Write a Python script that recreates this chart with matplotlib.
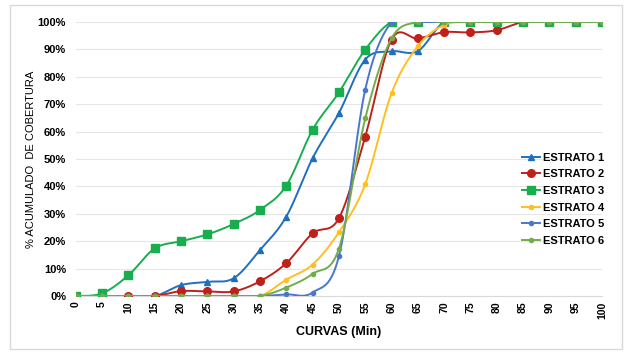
import numpy as np
import matplotlib
matplotlib.use('Agg')
import matplotlib.pyplot as plt
from matplotlib.patches import Rectangle
from matplotlib.ticker import PercentFormatter

plt.rcParams['font.family'] = ['Liberation Sans', 'DejaVu Sans']

curvas = list(range(0, 101, 5))

estrato_1 = [0, 0, 0, 0, 4, 5.2, 6.5, 16.8, 29, 50.3, 66.8, 86.3, 89.3, 89.4,
             100, 100, 100, 100, 100, 100, 100]
estrato_2 = [0, 0, 0, 0, 1.8, 1.7, 1.7, 5.4, 12, 22.9, 28.4, 58.2, 93.6, 94,
             96.3, 96.2, 97, 100, 100, 100, 100]
estrato_3 = [0, 1, 7.6, 17.4, 20, 22.5, 26.3, 31.4, 40.3, 60.7, 74.3, 89.9, 100,
             100, 100, 100, 100, 100, 100, 100, 100]
estrato_4 = [0, 0, 0, 0, 0, 0, 0, 0, 6, 11.5, 23.3, 40.8, 74, 91.2,
             98.9, 100, 100, 100, 100, 100, 100]
estrato_5 = [0, 0, 0, 0, 0, 0, 0, 0, 0.6, 1.3, 14.5, 75.3, 100, 100,
             100, 100, 100, 100, 100, 100, 100]
estrato_6 = [0, 0, 0, 0, 0, 0, 0, 0, 3.1, 8.1, 17.3, 64.8, 94, 100,
             100, 100, 100, 100, 100, 100, 100]

series = [
    ('ESTRATO 1', estrato_1, '#1F6FBF', '^', 5),
    ('ESTRATO 2', estrato_2, '#C0201A', 'o', 5.5),
    ('ESTRATO 3', estrato_3, '#18AE4E', 's', 5.5),
    ('ESTRATO 4', estrato_4, '#FFBF1F', 'o', 3),
    ('ESTRATO 5', estrato_5, '#4A77C9', 'o', 3),
    ('ESTRATO 6', estrato_6, '#72AC4D', 'o', 3),
]


def smooth(x, y, n=20):
    # excel-like smoothed line: catmull-rom segments as cubic bezier
    x = np.asarray(x, float)
    y = np.asarray(y, float)
    px = np.concatenate([[x[0]], x, [x[-1]]])
    py = np.concatenate([[y[0]], y, [y[-1]]])
    t = np.linspace(0, 1, n, endpoint=False)
    xs, ys = [], []
    for i in range(1, len(px) - 2):
        p0 = np.array([px[i - 1], py[i - 1]])
        p1 = np.array([px[i], py[i]])
        p2 = np.array([px[i + 1], py[i + 1]])
        p3 = np.array([px[i + 2], py[i + 2]])
        c1 = p1 + (p2 - p0) / 6
        c2 = p2 - (p3 - p1) / 6
        b = ((1 - t) ** 3)[:, None] * p1 + (3 * (1 - t) ** 2 * t)[:, None] * c1 \
            + (3 * (1 - t) * t ** 2)[:, None] * c2 + (t ** 3)[:, None] * p2
        xs.append(b[:, 0])
        ys.append(b[:, 1])
    xs.append([x[-1]])
    ys.append([y[-1]])
    return np.concatenate(xs), np.concatenate(ys)


fig = plt.figure(figsize=(6.32, 3.58), dpi=100)
ax = fig.add_axes([0.120, 0.173, 0.8325, 0.7655])

for name, vals, color, mk, ms in series:
    sx, sy = smooth(curvas, vals)
    ax.plot(sx, np.asarray(sy) / 100, color=color, lw=1.4, marker=mk,
            markersize=ms, markevery=list(range(0, len(sx), 20)),
            label=name, zorder=3)

ax.set_xlim(0, 100)
ax.set_ylim(0, 1.0)
ax.set_xticks(curvas)
ax.set_xticklabels([str(c) for c in curvas], rotation=90, fontsize=7.5,
                   fontweight='bold')
ax.set_yticks(np.arange(0, 1.01, 0.1))
ax.yaxis.set_major_formatter(PercentFormatter(1.0, decimals=0))
for lbl in ax.get_yticklabels():
    lbl.set_fontweight('bold')
    lbl.set_fontsize(8)
ax.tick_params(axis='y', length=0, pad=7)
ax.tick_params(axis='x', length=0, pad=4)
ax.grid(axis='y', color='#E6E6E6', lw=0.8)
for s in ['top', 'right', 'left']:
    ax.spines[s].set_visible(False)
ax.spines['bottom'].set_color('#D9D9D9')
ax.set_axisbelow(True)

ax.set_xlabel('CURVAS (Min)', fontsize=9, fontweight='bold', labelpad=5)
ax.set_ylabel('% ACUMULADO  DE COBERTURA', fontsize=8, labelpad=1)

ax.legend(loc='upper left', bbox_to_anchor=(0.84, 0.54), frameon=False,
          prop={'weight': 'bold', 'size': 8},
          handlelength=1.6, handletextpad=0.3, labelspacing=0.6,
          borderaxespad=0)

fig.add_artist(Rectangle((10 / 632, 9 / 358), 612 / 632, 344 / 358,
                         transform=fig.transFigure, fill=False,
                         edgecolor='#D9D9D9', lw=1))

fig.savefig('out.png', dpi=100)
